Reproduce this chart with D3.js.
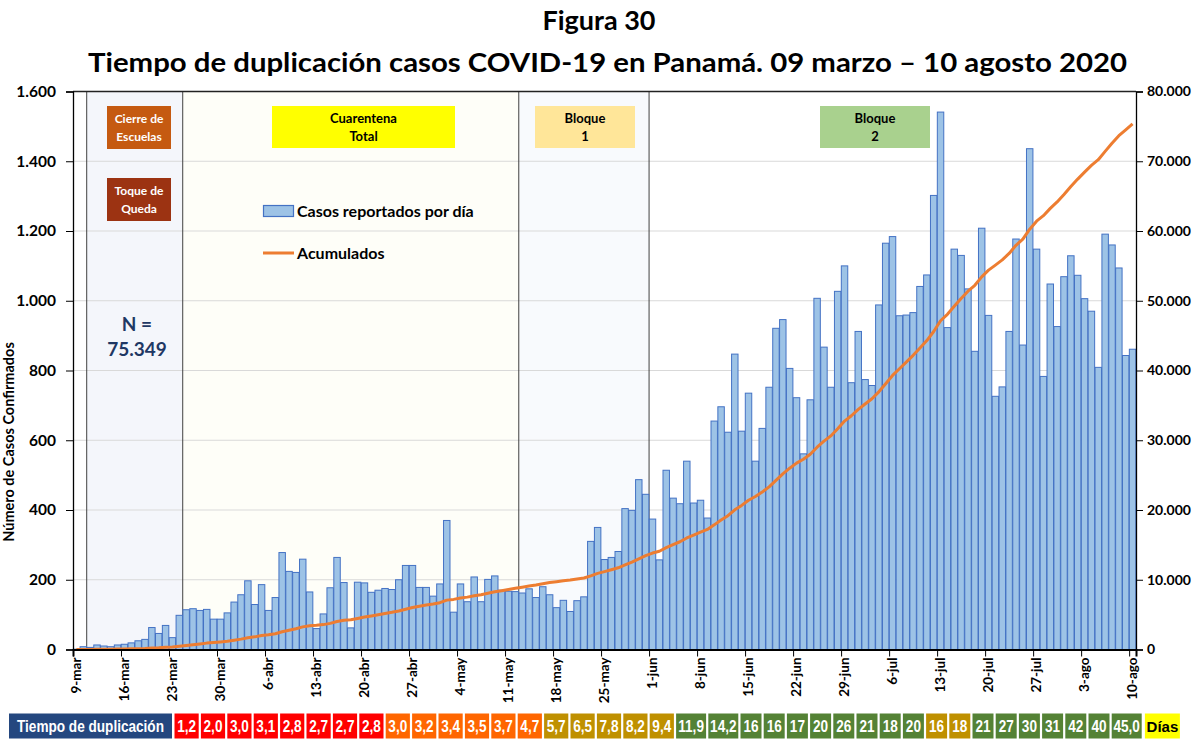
<html>
<head>
  <title> Tiempo de duplicación COVID-19 Panamá </title>
  <script src="https://d3js.org/d3.v7.min.js"></script>
  <style>
    body{ margin: 0; background: #fff; }
    text{ font-family: Lato, "Open Sans", sans-serif; font-weight: bold; }
    .tira text{ font-family: "Liberation Sans", Arial, sans-serif; }
  </style>
</head>
<body>
<svg id="chart" width="1193" height="743"></svg>
<script>

// casos reportados por dia, 9 marzo -> 10 agosto 2020
const casosDia = [
  1, 8, 6, 13, 10, 8, 13, 15, 19, 25, 29,
  63, 46, 69, 34, 98, 114, 117, 112, 115, 87,
  87, 105, 136, 157, 197, 129, 186, 112, 149, 278,
  224, 221, 259, 165, 60, 102, 177, 264, 192, 62,
  193, 191, 164, 170, 175, 172, 200, 241, 241, 178,
  178, 153, 188, 370, 107, 188, 137, 208, 137, 201,
  211, 170, 167, 166, 162, 174, 149, 180, 157, 120,
  141, 109, 140, 151, 310, 350, 258, 264, 281, 404,
  399, 487, 445, 374, 257, 514, 434, 418, 540, 420,
  428, 377, 655, 696, 623, 847, 626, 735, 540, 634,
  752, 921, 946, 806, 722, 561, 716, 1007, 867, 752,
  1027, 1100, 765, 912, 774, 757, 988, 1165, 1184, 957,
  959, 966, 1041, 1074, 1302, 1541, 923, 1148, 1130, 1034,
  855, 1208, 958, 726, 753, 912, 1177, 873, 1436, 1148,
  783, 1048, 926, 1069, 1129, 1073, 1006, 970, 809, 1191,
  1160, 1094, 843, 861
];
const acumulados = d3.cumsum(casosDia);

const fechas = d3.timeDay.range(new Date(2020, 2, 9), new Date(2020, 7, 11));

const etiquetasX = ["9-mar","16-mar","23-mar","30-mar","6-abr","13-abr","20-abr","27-abr",
  "4-may","11-may","18-may","25-may","1-jun","8-jun","15-jun","22-jun","29-jun",
  "6-jul","13-jul","20-jul","27-jul","3-ago","10-ago"];

const ticksIzq = [0, 200, 400, 600, 800, 1000, 1200, 1400, 1600];
const ticksDer = [0, 10000, 20000, 30000, 40000, 50000, 60000, 70000, 80000];

// cortes de periodo (indice del dia donde empieza)
const cortes = [2, 16, 65, 84];   // cierre escuelas, cuarentena total, bloque 1, bloque 2

const tiempoDup = ["1,2","2,0","3,0","3,1","2,8","2,7","2,7","2,8","3,0","3,2","3,4","3,5","3,7","4,7",
  "5,7","6,5","7,8","8,2","9,4","11,9","14,2","16","16","17","20","26","21","18","20","16","18",
  "21","27","30","31","42","40","45,0"];
const faseDup = [1,1,1,1,1,1,1,1, 2,2,2,2,2,2, 3,3,3,3,3, 4,4,4,4,4,4,4,4,4,4, 3,3, 4,4,4,4,4,4,4];

const svg = d3.select("#chart");
const W = 1193, H = 743;
svg.append("rect").attr("width", W).attr("height", H).attr("fill", "#fff");

const mLeft = 73, mRight = 1136, mTop = 91.5, mBottom = 649.5;

const x = d3.scaleBand().domain(d3.range(casosDia.length)).range([mLeft, mRight])
  .paddingInner(0.06).paddingOuter(0.03);
const xB = d3.scaleLinear().domain([0, casosDia.length]).range([mLeft, mRight]); // bordes de categoria
const yL = d3.scaleLinear().domain([0, 1600]).range([mBottom, mTop]);
const yR = d3.scaleLinear().domain([0, 80000]).range([mBottom, mTop]);

const loc = d3.formatLocale({decimal: ",", thousands: ".", grouping: [3], currency: ["", ""]});
const fmt = loc.format(",d");

// titulos
svg.append("text").attr("x", 599).attr("y", 30).attr("text-anchor", "middle")
  .attr("font-size", 27).text("Figura 30");
svg.append("text").attr("x", 607.5).attr("y", 72).attr("text-anchor", "middle")
  .attr("font-size", 27).attr("textLength", 1039).attr("lengthAdjust", "spacingAndGlyphs")
  .text("Tiempo de duplicación casos COVID-19 en Panamá. 09 marzo – 10 agosto 2020");

// fondos de periodos
const fondos = [
  {a: 0, b: cortes[0], c: "#ffffff"},
  {a: cortes[0], b: cortes[1], c: "#f4f6fb"},
  {a: cortes[1], b: cortes[2], c: "#fefef8"},
  {a: cortes[2], b: cortes[3], c: "#f8fafd"},
  {a: cortes[3], b: casosDia.length, c: "#ffffff"}
];
svg.append("g").selectAll("rect").data(fondos).join("rect")
  .attr("x", d => xB(d.a)).attr("width", d => xB(d.b) - xB(d.a))
  .attr("y", mTop).attr("height", mBottom - mTop).attr("fill", d => d.c);

// gridlines
svg.append("g").selectAll("line").data(ticksIzq.slice(1, -1)).join("line")
  .attr("x1", mLeft).attr("x2", mRight)
  .attr("y1", d => yL(d)).attr("y2", d => yL(d))
  .attr("stroke", "#d9d9d9").attr("stroke-width", 1.2);

// lineas verticales de periodos
svg.append("g").selectAll("line").data(cortes).join("line")
  .attr("x1", d => xB(d)).attr("x2", d => xB(d))
  .attr("y1", mTop).attr("y2", mBottom)
  .attr("stroke", "#404040").attr("stroke-width", 1);

// barras
svg.append("g").selectAll("rect").data(casosDia).join("rect")
  .attr("x", (d, i) => x(i)).attr("width", x.bandwidth())
  .attr("y", d => yL(d)).attr("height", d => mBottom - yL(d))
  .attr("fill", "#9dc3e6").attr("stroke", "#4472c4").attr("stroke-width", 1);

// linea acumulada
svg.append("path").datum(acumulados)
  .attr("d", d3.line().x((d, i) => x(i) + x.bandwidth() / 2).y(d => yR(d)))
  .attr("fill", "none").attr("stroke", "#ed7d31").attr("stroke-width", 3)
  .attr("stroke-linejoin", "round");

// marco superior
svg.append("line").attr("x1", mLeft).attr("x2", mRight).attr("y1", mTop).attr("y2", mTop)
  .attr("stroke", "#222").attr("stroke-width", 1.3);

// eje izquierdo
const ejeIzq = svg.append("g").attr("transform", `translate(${mLeft},0)`);
ejeIzq.call(d3.axisLeft(yL).tickValues(d3.range(0, 1601, 50)).tickSize(4).tickFormat(""));
ejeIzq.call(d3.axisLeft(yL).tickValues(ticksIzq).tickSize(7).tickPadding(10).tickFormat(fmt));
ejeIzq.selectAll("text").attr("font-size", 15.5).attr("fill", "#000")
  .attr("font-family", "Lato, sans-serif").attr("font-weight", "bold");
ejeIzq.selectAll("path").attr("stroke", "#000").attr("stroke-width", 1.3);
ejeIzq.selectAll("line").attr("stroke", "#000");

// eje derecho
const ejeDer = svg.append("g").attr("transform", `translate(${mRight},0)`);
ejeDer.call(d3.axisRight(yR).tickValues(d3.range(0, 80001, 1000)).tickSize(4).tickFormat(""));
ejeDer.call(d3.axisRight(yR).tickValues(ticksDer).tickSize(7).tickPadding(4).tickFormat(fmt));
ejeDer.selectAll("text").attr("font-size", 14).attr("fill", "#000")
  .attr("font-family", "Lato, sans-serif").attr("font-weight", "bold");
ejeDer.selectAll("path").attr("stroke", "#000").attr("stroke-width", 1.3);
ejeDer.selectAll("line").attr("stroke", "#000");

// eje x
const ejeX = svg.append("g").attr("transform", `translate(0,${mBottom})`);
ejeX.call(d3.axisBottom(xB).tickValues(d3.range(0, casosDia.length + 1)).tickSize(4).tickFormat(""));
ejeX.call(d3.axisBottom(xB).tickValues(d3.range(0, casosDia.length + 1, 7)).tickSize(7).tickFormat(""));
ejeX.selectAll("path").attr("stroke", "#000").attr("stroke-width", 2);
ejeX.selectAll("line").attr("stroke", "#000");
svg.append("g").selectAll("text").data(etiquetasX).join("text")
  .attr("transform", (d, k) => `translate(${x(k * 7) + x.bandwidth() / 2},${mBottom + 8}) rotate(-90)`)
  .attr("text-anchor", "end").attr("dy", "0.35em").attr("font-size", 13.5).text(d => d);

// titulo eje y
svg.append("text").attr("transform", "translate(14,442) rotate(-90)")
  .attr("text-anchor", "middle").attr("font-size", 14.5).text("Número de Casos Confirmados");

// cajas de anotacion
const cajas = [
  {x: 107, y: 106, w: 64, h: 43, c: "#c55a11", t: "#fff", l: ["Cierre de", "Escuelas"], f: 12},
  {x: 107, y: 178, w: 64, h: 43, c: "#9c3312", t: "#fff", l: ["Toque de", "Queda"], f: 12},
  {x: 272, y: 106, w: 183, h: 42, c: "#ffff00", t: "#000", l: ["Cuarentena", "Total"], f: 13},
  {x: 535, y: 106, w: 100, h: 42, c: "#ffe699", t: "#000", l: ["Bloque", "1"], f: 13},
  {x: 820, y: 106, w: 110, h: 42, c: "#a9d18e", t: "#000", l: ["Bloque", "2"], f: 13}
];
const gc = svg.append("g").selectAll("g").data(cajas).join("g");
gc.append("rect").attr("x", d => d.x).attr("y", d => d.y).attr("width", d => d.w).attr("height", d => d.h)
  .attr("fill", d => d.c);
gc.each(function(d) {
  d3.select(this).selectAll("text").data(d.l).join("text")
    .attr("x", d.x + d.w / 2).attr("y", (s, j) => d.y + 17 + j * 18)
    .attr("text-anchor", "middle").attr("font-size", d.f).attr("fill", d.t).text(s => s);
});

// N =
svg.append("text").attr("x", 137).attr("y", 331).attr("text-anchor", "middle")
  .attr("font-size", 19).attr("fill", "#1f3864").text("N =");
svg.append("text").attr("x", 137).attr("y", 356).attr("text-anchor", "middle")
  .attr("font-size", 19).attr("fill", "#1f3864").text("75.349");

// leyenda
svg.append("rect").attr("x", 263.5).attr("y", 205.5).attr("width", 30).attr("height", 11)
  .attr("fill", "#9dc3e6").attr("stroke", "#4472c4").attr("stroke-width", 1.2);
svg.append("text").attr("x", 297).attr("y", 217).attr("font-size", 16).text("Casos reportados por día");
svg.append("line").attr("x1", 263).attr("x2", 294).attr("y1", 253).attr("y2", 253)
  .attr("stroke", "#ed7d31").attr("stroke-width", 3);
svg.append("text").attr("x", 297).attr("y", 259).attr("font-size", 16).text("Acumulados");

// tira de tiempo de duplicacion
const colorFase = d3.scaleOrdinal().domain([1, 2, 3, 4]).range(["#ff0000", "#ff6600", "#bf9000", "#548235"]);
const anchoCelda = s => s.length <= 2 ? 21 : (s.length === 3 ? 24.2 : 30);
const tira = svg.append("g").attr("class", "tira");
const ty = 713.5, th = 25;
// fuente "narrow": texto escalado al 80% en horizontal
const angosto = (px, py) => `translate(${px},${py}) scale(0.8,1)`;
tira.append("rect").attr("x", 9).attr("y", ty).attr("width", 163).attr("height", th).attr("fill", "#24477f");
tira.append("text").attr("transform", angosto(90.5, ty + 18.5)).attr("text-anchor", "middle")
  .attr("font-size", 17).attr("fill", "#fff").text("Tiempo de duplicación");
let cx = 174.5;
const celdas = tiempoDup.map((s, i) => { const c = {s: s, f: faseDup[i], x: cx, w: anchoCelda(s)}; cx += c.w + 2.2; return c; });
tira.selectAll("rect.celda").data(celdas).join("rect").attr("class", "celda")
  .attr("x", d => d.x).attr("y", ty).attr("width", d => d.w).attr("height", th)
  .attr("fill", d => colorFase(d.f));
tira.selectAll("text.celda").data(celdas).join("text").attr("class", "celda")
  .attr("transform", d => angosto(d.x + d.w / 2, ty + 18.5)).attr("text-anchor", "middle")
  .attr("font-size", 17).attr("fill", "#fff").text(d => d.s);
tira.append("rect").attr("x", cx + 1).attr("y", ty).attr("width", 35).attr("height", th).attr("fill", "#ffff00");
tira.append("text").attr("x", cx + 18.5).attr("y", ty + 18).attr("text-anchor", "middle")
  .attr("font-size", 15).attr("fill", "#000").attr("font-family", "Lato, sans-serif").text("Días");

</script>
</body>
</html>
